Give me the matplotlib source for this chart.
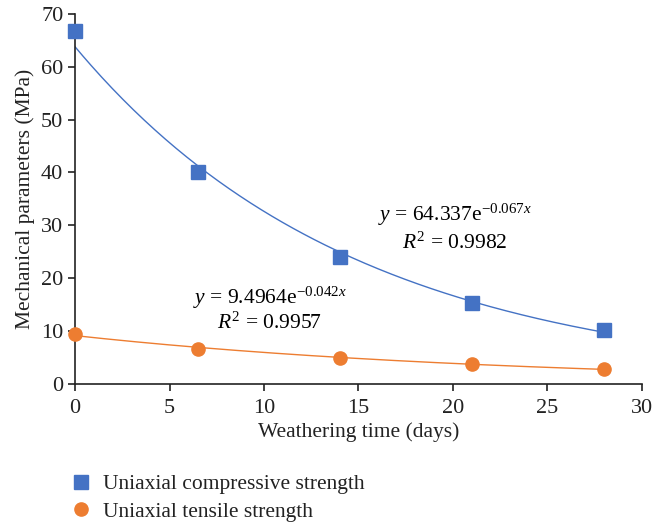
import numpy as np
import matplotlib.pyplot as plt
from matplotlib.lines import Line2D

plt.rcParams['font.family'] = ['Liberation Serif', 'DejaVu Serif']
plt.rcParams['mathtext.fontset'] = 'custom'
plt.rcParams['mathtext.rm'] = 'Liberation Serif'
plt.rcParams['mathtext.it'] = 'Liberation Serif:italic'

days = [0, 6.5, 14, 21, 28]
ucs = [66.8, 40.1, 24.0, 15.3, 10.2]
uts = [9.5, 6.7, 4.9, 3.8, 2.8]

blue = "#4472C4"
orange = "#ED7D31"

fig = plt.figure(figsize=(6.53, 5.29), dpi=100)
ax = fig.add_axes([0.115, 0.274, 0.868, 0.7])

xs = np.linspace(0, 28, 200)
for vals, col in [(ucs, blue), (uts, orange)]:
    b, a = np.polyfit(days, np.log(vals), 1)
    ax.plot(xs, np.exp(a) * np.exp(b * xs), color=col, lw=1.0, zorder=2)

ax.plot(days, ucs, 's', color=blue, ms=10, zorder=3, clip_on=False)
ax.plot(days, uts, 'o', color=orange, ms=9.5, zorder=3, clip_on=False)

fs = 15.5
ax.text(20.1, 32.0, r"$y$ = 64.337e$^{-0.067x}$", fontsize=fs, ha="center", va="center")
ax.text(20.1, 26.7, r"$R^2$ = 0.9982", fontsize=fs, ha="center", va="center")
ax.text(10.3, 16.3, r"$y$ = 9.4964e$^{-0.042x}$", fontsize=fs, ha="center", va="center")
ax.text(10.3, 11.5, r"$R^2$ = 0.9957", fontsize=fs, ha="center", va="center")

ax.set_xlim(0, 30)
ax.set_ylim(0, 70)
ax.set_xticks(range(0, 31, 5))
ax.set_yticks(range(0, 71, 10))
ax.tick_params(labelsize=16, length=5, width=1.2, color="#222222", labelcolor="#222222")
ax.tick_params(axis="x", pad=6)
for s in ["top", "right"]:
    ax.spines[s].set_visible(False)
for s in ["left", "bottom"]:
    ax.spines[s].set_linewidth(1.2)
    ax.spines[s].set_color("#222222")
ax.set_xlabel("Weathering time (days)", fontsize=fs, labelpad=3, color="#222222")
ax.set_ylabel("Mechanical parameters (MPa)", fontsize=fs, labelpad=4, color="#222222")

handles = [Line2D([], [], ls="none", marker="s", color=blue, ms=10),
           Line2D([], [], ls="none", marker="o", color=orange, ms=9.5)]
labels = ["Uniaxial compressive strength", "Uniaxial tensile strength"]
leg = fig.legend(handles, labels, loc="upper left", bbox_to_anchor=(0.075, 0.14),
                 frameon=False, fontsize=fs, handletextpad=0.4, labelspacing=0.35,
                 handlelength=1.2)
for t in leg.get_texts():
    t.set_color("#222222")

fig.savefig("out.png", dpi=100)
